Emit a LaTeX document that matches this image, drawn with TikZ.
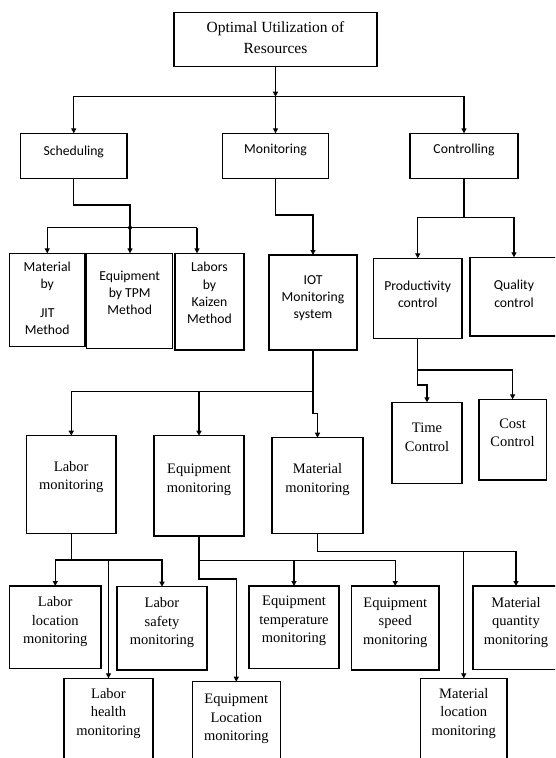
\documentclass[tikz,border=0pt]{standalone}
\usepackage{fontspec}
\setmainfont{Liberation Serif}
\newfontfamily\calfont{Carlito}
\usetikzlibrary{arrows.meta}
\tikzset{
 box/.style={draw, line width=1.2pt, inner sep=0pt, outer sep=0pt},
 serf/.style={font=\fontsize{14.5}{18.5}\selectfont, align=center, inner sep=0pt},
 sanf/.style={font=\calfont\fontsize{13.7}{17.3}\selectfont, align=center, inner sep=0pt},
 ttl/.style={font=\fontsize{15.5}{21.6}\selectfont, align=center, inner sep=0pt},
 ln/.style={line width=1.2pt},
 arr/.style={ln, -{Triangle[length=5pt,width=5pt]}},
}
\newcommand{\bx}[8]{%
 \node[box, minimum width={(#4-#2)*1pt}, minimum height={(#5-#3)*1pt}] (#1) at ({(#2+#4)/2},{(#3+#5)/2}) {};
 \node[#7] (#1-t) at ({(#2+#4)/2},#6) {#8};
}
\begin{document}
\begin{tikzpicture}[x=1pt,y=-1pt]
\useasboundingbox (0,0) rectangle (555,758);
\clip (0,0) rectangle (555,758);
% boxes
\bx{top}{174}{12.3}{377}{66.7}{37.5}{ttl}{Optimal Utilization of\\Resources}
\bx{sched}{20.5}{133.3}{127}{178.3}{151.7}{sanf}{Scheduling}
\bx{mon}{222.5}{133.3}{328.5}{178.3}{150}{sanf}{Monitoring}
\bx{ctrl}{410}{133.3}{518}{178.3}{150}{sanf}{Controlling}
\bx{jit}{9.5}{253.3}{85}{346.7}{298.3}{sanf}{Material\\by\\[12pt]JIT\\Method}
\bx{tpm}{86.7}{253.3}{172.7}{348.3}{293}{sanf}{Equipment\\by TPM\\Method}
\bx{kai}{175}{253.3}{244}{350}{293}{sanf}{Labors\\by\\Kaizen\\Method}
\bx{iot}{269}{255}{357}{350}{298}{sanf}{IOT\\Monitoring\\system}
\bx{prod}{373.5}{258.3}{462}{338.3}{294.5}{sanf}{Productivity\\control}
\bx{qual}{470}{257.3}{558}{336}{293.7}{sanf}{Quality\\control}
\bx{time}{392}{402.3}{462}{483.3}{437.3}{serf}{Time\\Control}
\bx{cost}{479}{399.3}{546.2}{480}{432.8}{serf}{Cost\\Control}
\bx{labm}{26.5}{435.7}{116}{533.3}{477}{serf}{Labor\\monitoring}
\bx{eqm}{154}{435.7}{244}{536}{479.7}{serf}{Equipment\\monitoring}
\bx{matm}{272}{437.7}{363}{533.3}{479.7}{serf}{Material\\monitoring}
\bx{labloc}{9.5}{586}{101}{668.3}{622}{serf}{Labor\\location\\monitoring}
\bx{labsaf}{117}{586.7}{207}{670}{623}{serf}{Labor\\safety\\monitoring}
\bx{eqtemp}{249}{586}{339}{668.3}{621}{serf}{Equipment\\temperature\\monitoring}
\bx{eqspd}{351.5}{586}{439}{670}{622.5}{serf}{Equipment\\speed\\monitoring}
\bx{matq}{473}{586}{559}{669.3}{622.5}{serf}{Material\\quantity\\monitoring}
\bx{labhl}{64}{678.3}{153}{775}{713.5}{serf}{Labor\\health\\monitoring}
\bx{eqloc}{192.2}{681.7}{280.4}{775}{719}{serf}{Equipment\\Location\\monitoring}
\bx{matloc}{420.5}{678.3}{507}{775}{713.5}{serf}{Material\\location\\monitoring}
% junction coordinates
\coordinate (j0) at (275.5,96.7);
\coordinate (sb) at (130,205);
\coordinate (js) at (130,227.7);
\coordinate (jk) at (197,227.7);
\coordinate (mb) at (313,215);
\coordinate (cb) at (464,217.3);
\coordinate (pb) at (417.75,370);
\coordinate (pj) at (417.75,385);
\coordinate (ib) at (313,391.7);
\coordinate (ij) at (313,413.3);
\coordinate (lb) at (71.25,560);
\coordinate (eb) at (199,560.7);
\coordinate (ej) at (199,579);
\coordinate (mb2) at (317.5,551.7);
% connectors
\draw[arr] (top) -- (j0);
\draw[arr] (j0) -| (sched);
\draw[arr] (j0) -- (mon);
\draw[arr] (j0) -| (ctrl);
\draw[ln] (sched) |- (sb) -- (js);
\fill (js) circle (2pt);
\draw[ln] (js) -- (jk);
\draw[arr] (js) -| (jit);
\draw[arr] (js) -- (tpm.north -| js);
\draw[arr] (jk) -- (kai.north -| jk);
\draw[arr] (mon) |- (mb) -- (iot);
\draw[ln] (ctrl) -- (cb);
\draw[arr] (cb) -| (prod);
\draw[arr] (cb) -| (qual);
\draw[ln] (prod) -- (pb);
\draw[arr] (pb) -| (cost);
\draw[arr] (pb) -- (pj) -| (time);
\draw[ln] (iot) -- (ib);
\draw[arr] (ib) -| (labm);
\draw[arr] (ib) -| (eqm);
\draw[arr] (ib) -- (ij) -| (matm);
\draw[ln] (labm) -- (lb);
\draw[arr] (lb) -| (labloc);
\draw[arr] (lb) -| (labsaf);
\draw[arr] (lb) -| (labhl);
\draw[ln] (eqm) -- (eb);
\draw[arr] (eb) -| (eqtemp);
\draw[arr] (eb) -| (eqspd);
\draw[arr] (eb) -- (ej) -| (eqloc);
\draw[ln] (matm) -- (mb2);
\draw[arr] (mb2) -| (matq);
\draw[arr] (mb2) -| (matloc);
\end{tikzpicture}
\end{document}
